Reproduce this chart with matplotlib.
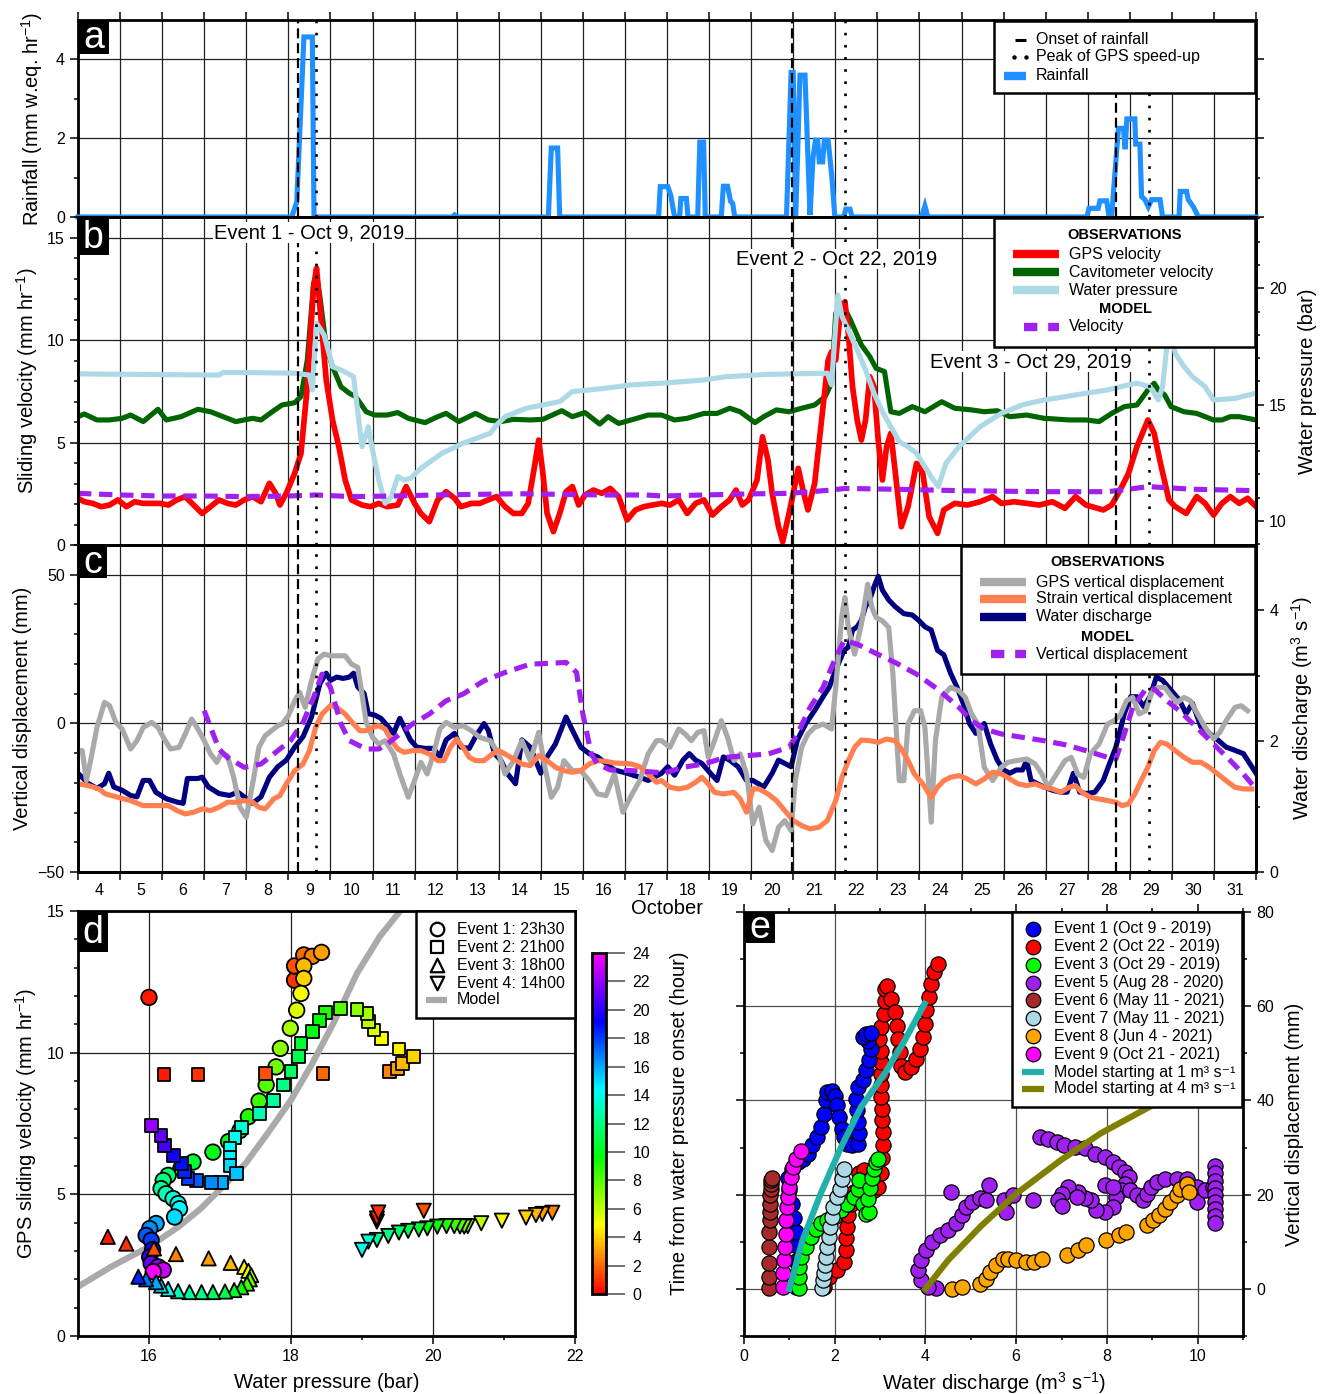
import numpy as np
import matplotlib
matplotlib.use("Agg")
import matplotlib.pyplot as plt
from matplotlib.colors import LinearSegmentedColormap, Normalize
from matplotlib.cm import ScalarMappable
from matplotlib.patches import Rectangle
from matplotlib.ticker import FixedLocator, FixedFormatter, MultipleLocator

plt.rcParams['font.family'] = ['Liberation Sans', 'DejaVu Sans']
plt.rcParams['mathtext.fontset'] = 'custom'
plt.rcParams['mathtext.rm'] = 'Liberation Sans'
plt.rcParams['mathtext.it'] = 'Liberation Sans:italic'
plt.rcParams['mathtext.bf'] = 'Liberation Sans:bold'

# ---------------------------------------------------------------- data
day_ticks = list(range(4, 32))
onset_days = [9.23, 20.97, 28.67]
peak_days = [9.66, 22.22, 29.46]
event_titles = ["Event 1 - Oct 9, 2019", "Event 2 - Oct 22, 2019", "Event 3 - Oct 29, 2019"]

rain = [(4.0, 0), (9.08, 0), (9.20, 0.38), (9.37, 4.57), (9.57, 4.57), (9.61, 0), (12.90, 0), (12.95, 0.05),
        (13.00, 0), (15.18, 0), (15.25, 1.75), (15.40, 1.75), (15.45, 0), (17.80, 0), (17.84, 0.77),
        (18.02, 0.77), (18.09, 0.55), (18.18, 0), (18.30, 0), (18.33, 0.47), (18.46, 0.47), (18.50, 0),
        (18.73, 0), (18.78, 1.9), (18.87, 1.9), (18.91, 0), (19.29, 0), (19.34, 0.78), (19.44, 0.78),
        (19.51, 0.4), (19.56, 0.35), (19.61, 0), (20.84, 0), (20.95, 3.67), (21.00, 3.67), (21.06, 0.02),
        (21.16, 3.6), (21.28, 3.6), (21.40, 0.05), (21.47, 1.5), (21.53, 1.95), (21.58, 1.95), (21.62, 1.4),
        (21.70, 1.4), (21.74, 1.95), (21.83, 1.95), (21.92, 1.0), (21.99, 0), (22.20, 0), (22.25, 0.2),
        (22.35, 0.2), (22.40, 0), (24.05, 0), (24.13, 0.28), (24.20, 0), (27.98, 0), (28.03, 0.22),
        (28.25, 0.22), (28.29, 0.41), (28.45, 0.41), (28.50, 0.05), (28.57, 0.05), (28.73, 2.25),
        (28.85, 2.25), (28.89, 1.72), (28.93, 2.49), (29.12, 2.49), (29.14, 1.85), (29.24, 1.85),
        (29.28, 0.52), (29.36, 0.44), (29.44, 0.26), (29.52, 0.44), (29.72, 0.44), (29.78, 0), (30.17, 0),
        (30.20, 0.65), (30.35, 0.65), (30.39, 0.44), (30.51, 0.26), (30.63, 0), (32.0, 0)]

gps_vel = [(4.00, 2.28), (4.15, 2.11), (4.35, 2.03), (4.55, 1.87), (4.75, 1.95), (4.95, 2.20), (5.15, 1.87),
           (5.35, 2.11), (5.55, 2.03), (5.75, 2.03), (5.95, 2.03), (6.15, 1.95), (6.35, 2.20), (6.55, 2.36),
           (6.75, 1.95), (6.95, 1.54), (7.15, 1.87), (7.35, 2.20), (7.55, 2.03), (7.75, 1.95), (7.95, 2.20),
           (8.15, 2.36), (8.35, 2.11), (8.55, 3.01), (8.70, 2.52), (8.80, 1.95), (8.95, 2.52), (9.15, 3.50),
           (9.30, 4.47), (9.45, 7.72), (9.60, 12.60), (9.67, 13.50), (9.75, 11.63), (9.90, 8.05),
           (10.05, 6.10), (10.20, 4.80), (10.35, 3.17), (10.50, 2.20), (10.75, 1.95), (10.95, 1.87),
           (11.15, 2.03), (11.35, 1.87), (11.60, 1.95), (11.80, 2.85), (12.00, 2.03), (12.15, 1.54),
           (12.35, 1.14), (12.55, 2.20), (12.75, 2.60), (12.95, 2.28), (13.10, 1.87), (13.35, 2.03),
           (13.55, 2.03), (13.75, 2.20), (13.95, 2.36), (14.15, 1.87), (14.35, 1.54), (14.55, 1.54),
           (14.70, 2.03), (14.85, 3.82), (14.95, 5.12), (15.05, 3.50), (15.15, 1.54), (15.30, 0.65),
           (15.45, 1.54), (15.60, 2.60), (15.75, 2.85), (15.90, 1.95), (16.05, 2.44), (16.25, 2.68),
           (16.45, 2.52), (16.65, 2.76), (16.85, 2.36), (17.05, 1.22), (17.25, 1.71), (17.45, 1.87),
           (17.65, 1.95), (17.87, 2.03), (18.07, 1.95), (18.28, 2.20), (18.48, 1.54), (18.68, 2.03),
           (18.88, 2.20), (19.08, 1.46), (19.29, 1.87), (19.49, 2.20), (19.64, 2.68), (19.79, 1.95),
           (19.94, 2.20), (20.14, 3.17), (20.27, 5.28), (20.40, 4.15), (20.50, 2.52), (20.65, 0.89),
           (20.75, 0.16), (20.90, 1.54), (21.00, 2.52), (21.12, 3.74), (21.25, 2.52), (21.35, 1.71),
           (21.51, 3.01), (21.71, 6.75), (21.83, 9.02), (21.91, 9.43), (22.01, 9.02), (22.11, 11.14),
           (22.23, 11.87), (22.31, 10.33), (22.41, 7.72), (22.52, 6.10), (22.62, 5.12), (22.72, 6.10),
           (22.82, 8.21), (22.92, 7.72), (23.02, 5.12), (23.12, 3.17), (23.22, 4.80), (23.32, 5.45),
           (23.42, 3.66), (23.57, 0.89), (23.73, 1.87), (23.93, 3.98), (24.08, 3.50), (24.23, 1.38),
           (24.43, 0.57), (24.58, 1.71), (24.84, 2.03), (25.14, 1.95), (25.44, 2.11), (25.74, 2.36),
           (25.95, 2.03), (26.25, 2.11), (26.55, 2.03), (26.85, 1.95), (27.16, 2.11), (27.46, 1.79),
           (27.71, 2.36), (27.96, 1.95), (28.37, 1.71), (28.57, 1.95), (28.77, 2.68), (28.97, 3.50),
           (29.17, 4.80), (29.43, 6.10), (29.58, 5.45), (29.73, 3.98), (29.93, 2.20), (30.08, 1.87),
           (30.34, 1.54), (30.59, 2.36), (30.79, 2.03), (30.99, 1.46), (31.19, 2.03), (31.39, 2.36),
           (31.60, 2.03), (31.80, 2.28), (32.00, 1.87)]

cav_vel = [(4.00, 6.26), (4.15, 6.39), (4.45, 6.10), (4.75, 6.10), (5.05, 6.18), (5.25, 6.34), (5.55, 6.02),
           (5.90, 6.62), (6.10, 6.10), (6.45, 6.26), (6.85, 6.62), (7.15, 6.50), (7.45, 6.26), (7.75, 6.02),
           (8.15, 6.18), (8.35, 6.10), (8.65, 6.55), (8.85, 6.83), (9.15, 6.94), (9.30, 7.24), (9.45, 9.02),
           (9.60, 12.76), (9.67, 13.17), (9.75, 12.11), (9.90, 9.67), (10.05, 8.70), (10.25, 7.72),
           (10.45, 7.40), (10.60, 7.24), (10.85, 6.50), (11.05, 6.34), (11.35, 6.34), (11.60, 6.46),
           (11.85, 6.18), (12.25, 5.97), (12.55, 6.26), (12.75, 6.42), (13.05, 6.02), (13.45, 6.42),
           (13.75, 6.10), (14.05, 6.02), (14.35, 6.13), (14.75, 6.10), (15.05, 6.13), (15.50, 6.55),
           (15.75, 6.26), (16.05, 6.46), (16.40, 5.90), (16.60, 6.26), (16.85, 5.93), (17.15, 6.10),
           (17.55, 6.34), (17.87, 6.34), (18.18, 6.10), (18.48, 6.18), (18.88, 6.42), (19.19, 6.42),
           (19.49, 6.67), (19.74, 6.50), (20.09, 5.97), (20.30, 6.26), (20.60, 6.59), (20.90, 6.50),
           (21.20, 6.67), (21.51, 6.83), (21.76, 7.24), (21.91, 7.89), (22.01, 11.30), (22.16, 11.79),
           (22.36, 10.98), (22.62, 9.76), (22.82, 9.19), (22.97, 8.62), (23.17, 8.46), (23.32, 6.50),
           (23.52, 6.42), (23.83, 6.75), (24.13, 6.50), (24.53, 6.99), (24.84, 6.67), (25.24, 6.59),
           (25.54, 6.50), (25.85, 6.55), (26.15, 6.26), (26.55, 6.34), (26.96, 6.18), (27.56, 6.10),
           (27.96, 6.10), (28.27, 6.02), (28.57, 6.42), (28.87, 6.75), (29.17, 6.83), (29.43, 7.56),
           (29.58, 7.89), (29.68, 7.56), (29.83, 7.32), (29.98, 6.75), (30.29, 6.50), (30.59, 6.42),
           (30.99, 6.10), (31.19, 6.10), (31.39, 6.26), (31.60, 6.26), (31.80, 6.18), (32.00, 6.10)]

water_pressure = [(4.00, 16.32), (7.35, 16.27), (7.45, 16.38), (7.95, 16.38), (9.15, 16.35), (9.50, 16.27),
                  (9.57, 15.63), (9.67, 18.50), (9.85, 17.99), (10.05, 16.63), (10.15, 16.56), (10.25, 16.49),
                  (10.40, 16.35), (10.55, 16.20), (10.75, 13.19), (10.90, 14.05), (11.00, 13.05),
                  (11.15, 11.76), (11.30, 10.76), (11.45, 11.05), (11.60, 11.91), (11.75, 11.76),
                  (11.90, 11.83), (12.15, 12.26), (12.65, 12.91), (13.15, 13.34), (13.80, 13.77),
                  (13.95, 14.13), (14.15, 14.48), (14.65, 14.84), (15.45, 15.13), (15.60, 15.34),
                  (15.75, 15.56), (16.15, 15.63), (16.65, 15.73), (17.15, 15.85), (17.87, 15.92),
                  (18.88, 16.06), (19.39, 16.20), (20.40, 16.30), (21.81, 16.35), (21.91, 15.85),
                  (22.06, 19.71), (22.16, 18.78), (22.31, 18.21), (22.52, 17.35), (22.72, 16.49),
                  (22.92, 15.49), (23.12, 14.70), (23.32, 14.05), (23.52, 13.41), (23.73, 13.19),
                  (23.93, 12.91), (24.13, 12.34), (24.33, 11.76), (24.45, 11.48), (24.63, 12.48),
                  (24.94, 13.19), (25.44, 14.05), (25.95, 14.63), (26.45, 14.99), (26.96, 15.20),
                  (27.46, 15.34), (27.96, 15.49), (28.47, 15.63), (28.97, 15.85), (29.17, 15.92),
                  (29.48, 15.77), (29.68, 15.20), (29.78, 15.77), (29.88, 17.49), (29.98, 18.21),
                  (30.08, 17.21), (30.29, 16.63), (30.49, 16.20), (30.79, 15.77), (30.99, 15.20),
                  (31.50, 15.27), (32.00, 15.49)]

model_vel = [(4.0, 2.52), (5.0, 2.44), (6.0, 2.39), (7.0, 2.39), (8.0, 2.36), (9.0, 2.39), (9.67, 2.44),
             (10.5, 2.36), (11.5, 2.39), (12.5, 2.44), (13.5, 2.47), (14.5, 2.50), (15.5, 2.47), (16.5, 2.44),
             (17.5, 2.44), (17.87, 2.39), (18.88, 2.44), (19.89, 2.49), (20.90, 2.52), (21.91, 2.68),
             (22.23, 2.76), (23.42, 2.72), (24.94, 2.65), (26.96, 2.60), (28.47, 2.60), (28.97, 2.72),
             (29.43, 2.85), (30.49, 2.72), (32.0, 2.65)]

gps_vert = [(4.00, -9.18), (4.10, -9.18), (4.20, -19.26), (4.30, -12.54), (4.45, -1.34), (4.63, 7.05),
            (4.75, 5.94), (4.90, 0.34), (5.05, -1.90), (5.25, -8.62), (5.40, -5.82), (5.55, -1.34),
            (5.75, 0.34), (5.90, -1.34), (6.05, -5.26), (6.20, -8.62), (6.40, -8.06), (6.55, -3.58),
            (6.70, 1.46), (6.85, -1.90), (7.00, -5.82), (7.15, -10.30), (7.30, -13.10), (7.40, -10.30),
            (7.55, -10.86), (7.70, -18.14), (7.85, -28.22), (8.00, -31.58), (8.15, -20.38), (8.30, -8.06),
            (8.45, -4.14), (8.60, -2.46), (8.75, -0.78), (8.85, -0.22), (9.00, 2.58), (9.15, 7.61),
            (9.27, 10.41), (9.40, 5.38), (9.55, 14.33), (9.70, 21.61), (9.85, 23.29), (10.00, 22.73),
            (10.15, 22.73), (10.25, 22.73), (10.35, 22.73), (10.50, 19.93), (10.65, 18.81), (10.75, 9.85),
            (10.85, 0.34), (11.00, -4.70), (11.15, -6.94), (11.30, -5.82), (11.50, -10.30), (11.65, -17.02),
            (11.85, -24.86), (12.00, -19.26), (12.15, -13.10), (12.30, -17.02), (12.45, -10.30),
            (12.60, -1.90), (12.75, 0.34), (12.95, -1.34), (13.15, -0.78), (13.35, -2.46), (13.55, -4.70),
            (13.80, -5.82), (14.00, -10.30), (14.15, -17.02), (14.35, -12.54), (14.55, -5.82),
            (14.75, -12.54), (14.95, -3.02), (15.10, -14.78), (15.25, -24.86), (15.40, -21.50),
            (15.55, -12.54), (15.75, -15.90), (15.95, -15.90), (16.15, -19.26), (16.35, -23.74),
            (16.55, -24.30), (16.75, -17.02), (16.95, -29.90), (17.15, -24.30), (17.35, -19.26),
            (17.55, -10.30), (17.75, -5.82), (17.87, -5.82), (18.07, -8.06), (18.28, -1.90), (18.43, -3.58),
            (18.58, -5.82), (18.73, -3.02), (18.88, -2.46), (18.98, -11.42), (19.13, -5.82), (19.29, 0.90),
            (19.44, -4.70), (19.59, -12.54), (19.74, -10.30), (19.89, -17.02), (20.04, -33.82),
            (20.19, -28.22), (20.35, -39.42), (20.50, -42.78), (20.65, -34.94), (20.80, -32.70),
            (20.95, -36.06), (21.05, -19.26), (21.20, -8.06), (21.35, -3.58), (21.51, -1.34), (21.71, -0.22),
            (21.91, -1.90), (22.01, 12.09), (22.16, 36.73), (22.23, 42.33), (22.31, 32.25), (22.46, 23.29),
            (22.62, 33.37), (22.77, 46.81), (22.87, 38.97), (22.97, 35.61), (23.12, 34.49), (23.27, 32.25),
            (23.37, 16.57), (23.52, -19.26), (23.63, -19.26), (23.73, -0.22), (23.88, 4.26), (24.03, 4.26),
            (24.13, -1.34), (24.28, -33.26), (24.38, -5.82), (24.53, 8.73), (24.74, 12.09), (24.94, 10.97),
            (25.09, 8.73), (25.24, 3.14), (25.39, -0.22), (25.54, -14.78), (25.74, -19.26), (25.95, -14.78),
            (26.10, -13.10), (26.30, -12.54), (26.55, -11.98), (26.75, -13.66), (26.91, -17.02),
            (27.06, -21.50), (27.26, -17.02), (27.46, -12.54), (27.61, -11.42), (27.76, -17.02),
            (27.91, -18.14), (28.06, -10.30), (28.27, -6.94), (28.47, -0.22), (28.62, 0.90), (28.77, 2.58),
            (28.92, 7.61), (29.07, 8.73), (29.22, 3.14), (29.38, 4.26), (29.53, 10.97), (29.68, 12.09),
            (29.83, 12.09), (29.98, 9.29), (30.13, 7.05), (30.29, 8.73), (30.44, 7.61), (30.59, 3.70),
            (30.79, -1.34), (30.99, -5.26), (31.14, -3.02), (31.29, 0.90), (31.50, 5.38), (31.65, 5.94),
            (31.80, 4.26)]

strain_vert = [(4.00, -20.38), (4.25, -20.94), (4.50, -22.06), (4.65, -23.74), (4.95, -24.86), (5.25, -25.98),
               (5.55, -27.66), (5.85, -27.66), (6.15, -27.66), (6.35, -29.34), (6.55, -30.46), (6.75, -29.90),
               (6.95, -28.78), (7.15, -29.34), (7.35, -28.22), (7.55, -26.54), (7.75, -26.54), (7.95, -25.98),
               (8.15, -26.54), (8.30, -28.22), (8.45, -28.78), (8.65, -25.42), (8.80, -24.30), (8.95, -20.38),
               (9.15, -15.90), (9.35, -13.66), (9.50, -9.18), (9.65, -1.34), (9.80, 3.14), (10.00, 5.94),
               (10.15, 5.38), (10.35, 3.14), (10.55, -0.22), (10.70, -2.46), (10.85, -2.46), (11.00, -1.34),
               (11.15, -0.78), (11.30, -1.90), (11.45, -5.82), (11.60, -8.62), (11.75, -9.74), (11.95, -9.18),
               (12.15, -9.18), (12.35, -10.30), (12.55, -12.54), (12.70, -12.54), (12.85, -8.06),
               (13.00, -5.26), (13.15, -8.06), (13.30, -11.42), (13.45, -12.54), (13.65, -12.54),
               (13.85, -10.30), (14.00, -9.18), (14.15, -10.30), (14.35, -11.98), (14.55, -13.66),
               (14.75, -14.22), (14.95, -10.86), (15.15, -12.54), (15.35, -14.78), (15.55, -15.90),
               (15.75, -16.46), (15.95, -15.90), (16.15, -13.66), (16.35, -12.54), (16.55, -12.77),
               (16.75, -13.33), (16.95, -13.44), (17.15, -13.66), (17.35, -14.56), (17.55, -17.02),
               (17.75, -19.82), (17.87, -19.26), (18.07, -21.50), (18.28, -22.06), (18.48, -21.50),
               (18.68, -19.82), (18.83, -18.14), (18.98, -20.38), (19.13, -23.18), (19.34, -23.74),
               (19.59, -23.18), (19.74, -25.42), (19.89, -29.90), (20.04, -22.06), (20.19, -22.06),
               (20.40, -23.74), (20.60, -25.98), (20.80, -29.34), (21.00, -32.70), (21.20, -34.38),
               (21.40, -35.50), (21.61, -34.94), (21.81, -32.70), (22.01, -25.98), (22.16, -18.14),
               (22.31, -12.54), (22.46, -8.06), (22.62, -5.60), (22.82, -5.82), (23.02, -6.38), (23.22, -5.26),
               (23.42, -5.82), (23.57, -8.62), (23.73, -12.54), (23.88, -17.02), (24.08, -20.38),
               (24.28, -24.86), (24.43, -21.50), (24.58, -19.26), (24.74, -18.14), (24.94, -17.58),
               (25.14, -18.70), (25.34, -20.38), (25.54, -18.70), (25.74, -16.46), (25.95, -17.02),
               (26.15, -18.70), (26.35, -20.38), (26.55, -20.94), (26.75, -20.38), (26.96, -21.50),
               (27.16, -22.06), (27.36, -23.18), (27.56, -21.50), (27.71, -20.94), (27.86, -23.18),
               (28.06, -24.86), (28.27, -25.42), (28.47, -25.98), (28.67, -26.54), (28.82, -27.66),
               (28.97, -27.10), (29.12, -23.74), (29.27, -19.26), (29.43, -14.78), (29.58, -9.18),
               (29.73, -6.38), (29.88, -6.94), (30.08, -9.18), (30.29, -11.42), (30.49, -13.10),
               (30.69, -13.10), (30.89, -14.78), (31.09, -17.02), (31.29, -19.26), (31.50, -21.50),
               (31.70, -22.06), (31.90, -22.06)]

discharge = [(4.00, 1.51), (4.25, 1.35), (4.45, 1.28), (4.63, 1.35), (4.73, 1.51), (4.85, 1.30), (5.05, 1.25),
             (5.25, 1.17), (5.40, 1.15), (5.55, 1.40), (5.70, 1.40), (5.85, 1.22), (6.10, 1.12), (6.35, 1.07),
             (6.50, 1.05), (6.60, 1.43), (6.85, 1.43), (6.95, 1.45), (7.10, 1.30), (7.35, 1.20), (7.60, 1.17),
             (7.80, 1.22), (7.95, 1.15), (8.15, 1.05), (8.35, 1.15), (8.55, 1.45), (8.75, 1.61), (8.95, 1.71),
             (9.15, 1.91), (9.35, 2.07), (9.55, 2.37), (9.75, 2.88), (9.90, 3.04), (10.00, 2.93),
             (10.15, 2.98), (10.30, 2.96), (10.45, 2.98), (10.55, 3.04), (10.65, 2.83), (10.80, 2.73),
             (10.90, 2.42), (11.05, 2.40), (11.20, 2.35), (11.35, 2.24), (11.50, 2.12), (11.65, 2.35),
             (11.75, 2.22), (11.90, 2.02), (12.05, 1.91), (12.25, 1.89), (12.45, 1.89), (12.60, 1.76),
             (12.75, 2.02), (12.95, 2.12), (13.10, 1.91), (13.30, 1.89), (13.45, 2.07), (13.65, 2.27),
             (13.75, 2.17), (13.90, 1.81), (14.05, 1.71), (14.20, 1.51), (14.40, 1.35), (14.55, 2.02),
             (14.75, 1.91), (15.00, 1.51), (15.15, 1.76), (15.35, 1.96), (15.60, 2.37), (15.75, 2.17),
             (15.95, 1.91), (16.15, 1.81), (16.35, 1.76), (16.55, 1.66), (16.75, 1.56), (17.05, 1.51),
             (17.35, 1.45), (17.55, 1.40), (17.87, 1.51), (18.02, 1.61), (18.18, 1.48), (18.38, 1.71),
             (18.53, 1.81), (18.68, 1.71), (18.83, 1.66), (19.03, 1.51), (19.19, 1.40), (19.34, 1.76),
             (19.49, 1.71), (19.69, 1.61), (19.89, 1.40), (20.04, 1.40), (20.30, 1.30), (20.50, 1.51),
             (20.65, 1.71), (20.80, 1.66), (20.95, 1.61), (21.10, 2.02), (21.30, 2.27), (21.51, 2.47),
             (21.71, 2.68), (21.86, 2.83), (22.01, 3.09), (22.11, 3.24), (22.21, 3.39), (22.31, 3.44),
             (22.41, 3.70), (22.52, 3.75), (22.62, 3.85), (22.72, 4.06), (22.82, 4.16), (22.92, 4.36),
             (23.02, 4.52), (23.12, 4.31), (23.27, 4.16), (23.42, 4.06), (23.63, 3.95), (23.83, 3.93),
             (23.98, 3.85), (24.13, 3.75), (24.28, 3.70), (24.43, 3.39), (24.58, 3.32), (24.74, 3.04),
             (24.89, 2.83), (25.04, 2.58), (25.19, 2.27), (25.34, 2.12), (25.54, 2.27), (25.69, 1.96),
             (25.85, 1.71), (26.00, 1.56), (26.15, 1.51), (26.30, 1.56), (26.45, 1.56), (26.55, 1.71),
             (26.65, 1.40), (26.80, 1.35), (26.96, 1.30), (27.16, 1.25), (27.36, 1.22), (27.51, 1.22),
             (27.66, 1.51), (27.81, 1.22), (27.96, 1.20), (28.17, 1.22), (28.37, 1.40), (28.52, 1.66),
             (28.67, 1.91), (28.87, 2.42), (29.02, 2.68), (29.17, 2.68), (29.33, 2.53), (29.48, 2.68),
             (29.63, 2.98), (29.78, 2.93), (29.98, 2.78), (30.18, 2.63), (30.34, 2.42), (30.49, 2.58),
             (30.69, 2.22), (30.89, 2.12), (31.09, 2.02), (31.29, 1.91), (31.50, 1.86), (31.70, 1.81),
             (31.90, 1.61), (32.00, 1.51)]

model_vert = [(7.00, 4.26), (7.35, -8.62), (7.55, -11.42), (7.95, -14.78), (8.35, -13.66), (8.75, -9.18),
              (9.05, -5.82), (9.35, 0.34), (9.60, 8.73), (9.80, 16.57), (10.00, 12.09), (10.25, -0.22),
              (10.45, -5.82), (10.85, -8.62), (11.15, -8.62), (11.35, -6.94), (11.65, -3.58), (11.95, -0.22),
              (12.35, 3.14), (12.75, 7.61), (13.15, 9.85), (13.65, 14.33), (14.15, 17.13), (14.75, 19.93),
              (15.15, 20.16), (15.60, 20.49), (15.85, 17.13), (16.00, 3.14), (16.20, -10.30), (16.35, -13.66),
              (16.65, -15.68), (17.15, -15.90), (17.75, -16.46), (17.87, -17.02), (18.38, -14.78),
              (18.88, -13.66), (19.39, -11.42), (19.89, -10.86), (20.40, -10.30), (20.90, -8.06),
              (21.10, -3.58), (21.40, 5.38), (21.71, 12.09), (22.01, 22.17), (22.21, 27.77), (22.52, 26.65),
              (22.92, 23.85), (23.42, 20.49), (23.93, 16.57), (24.43, 11.53), (24.94, 5.38), (25.24, 0.90),
              (25.54, -1.90), (25.95, -3.58), (26.45, -4.70), (26.96, -5.82), (27.46, -7.17), (27.96, -9.18),
              (28.47, -11.42), (28.67, -11.98), (28.87, -3.58), (29.07, 5.38), (29.38, 11.53), (29.58, 11.53),
              (29.88, 7.61), (30.18, 4.26), (30.59, -1.34), (30.99, -6.94), (31.39, -12.54), (31.70, -17.02),
              (32.00, -22.06)]

# panel d : (water pressure bar, GPS velocity mm/hr, hours from onset)
ev1_d = [(16.00, 11.95, 0.5), (18.05, 12.56, 1.0), (18.05, 13.06, 1.5), (18.18, 13.45, 2.0), (18.30, 13.40, 2.5),
         (18.43, 13.54, 3.0), (18.18, 13.06, 3.5), (18.18, 12.62, 4.0), (18.14, 12.09, 5.0), (18.08, 11.50, 5.5),
         (17.99, 10.86, 6.5), (17.85, 10.15, 7.0), (17.79, 9.50, 7.5), (17.65, 8.86, 8.0), (17.55, 8.29, 8.5),
         (17.40, 7.74, 9.0), (17.28, 7.25, 9.5), (17.12, 6.86, 10.0), (16.90, 6.49, 10.0), (16.62, 6.14, 10.5),
         (16.45, 5.92, 11.0), (16.27, 5.67, 11.5), (16.20, 5.49, 12.0), (16.17, 5.20, 12.5), (16.24, 5.02, 13.0),
         (16.34, 4.85, 13.5), (16.41, 4.67, 14.0), (16.43, 4.49, 14.5), (16.36, 4.20, 15.0), (16.10, 3.97, 16.0),
         (16.01, 3.79, 16.5), (15.96, 3.55, 17.5), (16.03, 3.38, 18.0), (16.05, 3.05, 19.0), (16.01, 2.79, 20.0),
         (16.03, 2.56, 21.0), (16.13, 2.44, 22.0), (16.20, 2.33, 23.0), (16.06, 2.27, 24.0)]
ev2_d = [(16.21, 9.24, 0.5), (16.69, 9.24, 1.0), (17.64, 9.27, 1.5), (18.45, 9.27, 2.0), (19.39, 9.33, 2.5),
         (19.50, 9.45, 3.0), (19.57, 9.62, 3.5), (19.72, 9.86, 4.0), (19.52, 10.13, 4.5), (19.28, 10.50, 5.0),
         (19.17, 10.80, 5.5), (19.09, 11.10, 6.0), (19.07, 11.39, 6.5), (18.93, 11.53, 7.0), (18.70, 11.56, 8.0),
         (18.49, 11.41, 9.0), (18.40, 11.13, 9.5), (18.30, 10.74, 10.0), (18.14, 10.33, 10.5), (18.10, 9.86, 11.0),
         (18.00, 9.33, 11.5), (17.89, 8.86, 12.0), (17.75, 8.31, 12.5), (17.56, 7.84, 13.0), (17.30, 7.37, 13.5),
         (17.21, 7.02, 14.0), (17.14, 6.61, 14.3), (17.14, 6.32, 14.6), (17.14, 6.02, 15.0), (17.23, 5.73, 15.5),
         (17.02, 5.43, 16.0), (16.88, 5.43, 16.5), (16.67, 5.49, 17.5), (16.55, 5.55, 18.0), (16.50, 5.82, 18.5),
         (16.46, 6.08, 19.0), (16.34, 6.37, 19.5), (16.22, 6.73, 20.5), (16.17, 7.08, 21.0), (16.04, 7.43, 22.0)]
ev3_d = [(15.42, 3.50, 0.5), (15.68, 3.26, 1.0), (16.07, 3.09, 1.5), (16.38, 2.89, 2.5), (16.84, 2.74, 3.0),
         (17.15, 2.58, 3.5), (17.34, 2.44, 4.5), (17.40, 2.30, 5.5), (17.44, 2.15, 6.5), (17.42, 2.00, 7.5),
         (17.38, 1.85, 8.5), (17.30, 1.72, 9.5), (17.20, 1.62, 10.5), (17.07, 1.57, 11.0), (16.90, 1.55, 11.5),
         (16.74, 1.55, 12.0), (16.57, 1.55, 12.5), (16.41, 1.58, 13.0), (16.27, 1.66, 14.0), (16.17, 1.78, 15.0),
         (16.10, 1.90, 16.0), (15.96, 2.00, 17.0), (15.85, 2.09, 18.5)]
ev4_d = [(19.21, 4.04, 0.3), (19.21, 4.15, 0.5), (19.23, 4.36, 1.0), (19.87, 4.42, 1.5), (21.68, 4.35, 2.5),
         (21.54, 4.31, 3.0), (21.45, 4.27, 3.5), (21.31, 4.18, 4.0), (20.97, 4.07, 5.0), (20.68, 3.98, 6.0),
         (20.49, 3.88, 7.0), (20.44, 3.86, 7.5), (20.38, 3.87, 8.0), (20.30, 3.88, 8.5), (20.19, 3.88, 9.0),
         (20.06, 3.86, 9.5), (19.92, 3.80, 10.0), (19.80, 3.76, 10.5), (19.65, 3.71, 11.0), (19.52, 3.65, 11.5),
         (19.37, 3.53, 12.0), (19.21, 3.39, 12.5), (19.09, 3.33, 13.5), (19.00, 3.04, 14.0)]
model_d = [(15.0, 1.74), (15.47, 2.45), (16.0, 3.15), (16.42, 3.86), (16.73, 4.5), (17.04, 5.27), (17.36, 6.09),
           (17.67, 7.15), (18.0, 8.33), (18.3, 9.62), (18.62, 11.15), (18.93, 12.8), (19.25, 14.1), (19.56, 15.07)]
legend_d = ["Event 1: 23h30", "Event 2: 21h00", "Event 3: 18h00", "Event 4: 14h00", "Model"]

# panel e : (water discharge m3/s, vertical displacement mm)
e_ev1 = [(1.15, 0.5), (1.15, 3.0), (1.15, 6.0), (1.16, 9.0), (1.14, 12.0), (1.10, 15.0), (1.05, 18.0), (1.00, 21.0),
         (0.98, 23.5), (1.05, 25.5), (1.18, 27.0), (1.30, 27.6), (1.40, 28.7), (1.51, 30.5), (1.62, 32.2),
         (1.69, 34.4), (1.77, 37.2), (1.81, 40.0), (1.84, 41.8), (1.93, 42.1), (2.00, 41.0), (2.06, 39.0),
         (2.10, 36.5), (2.15, 34.0), (2.20, 32.2), (2.28, 30.8), (2.39, 30.5), (2.51, 30.8), (2.54, 33.0),
         (2.52, 35.4), (2.48, 37.9), (2.47, 40.4), (2.51, 42.8), (2.62, 44.3), (2.69, 46.4), (2.76, 48.5),
         (2.79, 51.0), (2.73, 52.7), (2.62, 53.4), (2.69, 54.2), (2.79, 54.3)]
e_ev2 = [(1.77, 0.4), (1.88, 2.6), (2.06, 4.0), (2.21, 5.7), (2.25, 8.2), (2.25, 10.7), (2.27, 13.2), (2.30, 15.6),
         (2.36, 18.1), (2.43, 20.6), (2.54, 24.5), (2.65, 25.2), (2.76, 23.1), (2.87, 20.9), (2.95, 21.6),
         (3.02, 24.5), (3.04, 27.7), (3.06, 30.5), (3.06, 33.3), (3.04, 35.8), (3.04, 38.2), (3.02, 40.7),
         (3.02, 43.2), (3.03, 45.7), (3.02, 48.1), (3.01, 50.6), (2.98, 53.1), (3.02, 55.6), (3.08, 58.4),
         (3.10, 61.2), (3.11, 63.7), (3.15, 64.2), (3.24, 61.6), (3.32, 58.7), (3.38, 55.9), (3.40, 53.1),
         (3.43, 50.3), (3.46, 47.4), (3.54, 46.0), (3.68, 47.2), (3.80, 48.9), (3.89, 51.0), (3.94, 53.4),
         (3.98, 56.3), (4.02, 59.1), (4.08, 61.9), (4.13, 64.8), (4.19, 67.2), (4.27, 69.0)]
e_ev3 = [(1.22, 0.1), (1.22, 2.6), (1.22, 4.7), (1.25, 6.8), (1.36, 8.9), (1.47, 11.0), (1.58, 12.8), (1.69, 13.9),
         (1.84, 14.6), (1.99, 15.3), (2.14, 16.7), (2.28, 18.1), (2.43, 19.5), (2.51, 21.3), (2.54, 23.1),
         (2.62, 18.0), (2.68, 16.0), (2.76, 16.4), (2.74, 19.0), (2.78, 21.5), (2.82, 23.5), (2.86, 25.5),
         (2.92, 27.0), (2.96, 27.6)]
e_ev5 = [(4.24, 0.1), (4.06, 0.4), (3.90, 1.8), (3.84, 4.0), (3.90, 6.1), (4.01, 8.2), (4.15, 10.0), (4.32, 11.4),
         (4.50, 12.4), (4.68, 13.9), (4.81, 15.6), (4.90, 17.4), (5.03, 18.5), (5.21, 19.2), (5.34, 18.8),
         (4.57, 20.6), (5.40, 22.0), (5.74, 18.8), (5.78, 16.3), (5.92, 19.9), (6.36, 18.8), (6.53, 32.2),
         (6.71, 31.9), (6.89, 31.2), (7.06, 30.5), (7.29, 30.1), (7.51, 29.8), (7.73, 28.7), (7.95, 28.0),
         (8.13, 26.9), (8.26, 25.9), (8.39, 24.8), (8.48, 23.8), (8.39, 22.3), (8.30, 20.9), (8.21, 19.5),
         (8.13, 17.4), (7.95, 16.3), (7.77, 16.7), (7.64, 18.8), (7.51, 19.2), (7.37, 20.6), (7.15, 21.6),
         (7.02, 20.2), (6.93, 18.8), (7.02, 17.7), (7.33, 19.5), (7.95, 22.0), (8.13, 21.6), (8.52, 20.9),
         (8.66, 19.9), (8.79, 18.8), (8.88, 20.2), (8.97, 21.6), (9.10, 22.7), (9.27, 23.4), (9.54, 23.4),
         (9.76, 23.4), (9.98, 21.6), (9.98, 18.5), (10.16, 20.9), (10.34, 21.6), (10.38, 26.0), (10.38, 24.5),
         (10.38, 23.0), (10.38, 21.5), (10.38, 20.0), (10.38, 18.5), (10.38, 17.0), (10.38, 15.5), (10.38, 14.0)]
e_ev6 = [(0.55, 0.1), (0.55, 2.6), (0.55, 5.4), (0.55, 8.9), (0.55, 12.1), (0.57, 14.6), (0.57, 16.3), (0.57, 18.1),
         (0.58, 19.9), (0.59, 21.3), (0.60, 22.2), (0.60, 23.1), (0.61, 23.6)]
e_ev7 = [(1.73, 0.1), (1.75, 1.9), (1.77, 3.3), (1.79, 5.0), (1.81, 6.8), (1.84, 8.9), (1.88, 11.0), (1.90, 13.2),
         (1.93, 15.3), (1.97, 17.4), (2.05, 19.5), (2.12, 21.3), (2.17, 23.4), (2.21, 25.5)]
e_ev8 = [(4.59, 0.0), (4.81, 0.4), (5.21, 1.1), (5.34, 2.2), (5.43, 3.6), (5.56, 5.0), (5.70, 6.4), (5.83, 6.4),
         (6.00, 6.1), (6.22, 5.7), (6.40, 5.7), (6.58, 6.4), (7.11, 7.1), (7.37, 8.2), (7.55, 9.3), (7.99, 10.3),
         (8.26, 11.4), (8.43, 12.1), (8.88, 13.5), (9.01, 14.6), (9.14, 15.6), (9.27, 17.0), (9.40, 18.5),
         (9.54, 19.9), (9.62, 21.3), (9.76, 22.3), (9.80, 20.6)]
e_ev9 = [(0.85, 0.4), (0.87, 3.3), (0.88, 6.1), (0.90, 8.9), (0.92, 11.7), (0.92, 14.6), (0.94, 17.4),
         (0.96, 19.5), (0.99, 21.6), (1.03, 23.8), (1.07, 25.9), (1.14, 27.6), (1.25, 29.3)]
e_model1 = [(1.00, 0.0), (1.29, 10.3), (1.69, 20.2), (2.14, 30.1), (2.58, 38.6), (3.10, 45.7), (3.54, 52.7),
            (3.98, 60.5)]
e_model4 = [(4.00, 0.0), (4.50, 6.1), (5.21, 13.2), (6.00, 20.2), (6.98, 27.3), (7.86, 33.0), (9.01, 39.0),
            (9.50, 41.5)]
legend_e = ["Event 1 (Oct 9 - 2019)", "Event 2 (Oct 22 - 2019)", "Event 3 (Oct 29 - 2019)",
            "Event 5 (Aug 28 - 2020)", "Event 6 (May 11 - 2021)", "Event 7 (May 11 - 2021)",
            "Event 8 (Jun 4 - 2021)", "Event 9 (Oct 21 - 2021)",
            "Model starting at 1 m\u00b3 s\u207b\u00b9", "Model starting at 4 m\u00b3 s\u207b\u00b9"]
e_colors = ['#0000ff', '#ff0000', '#00ff00', '#a020f0', '#a52a2a', '#add8e6', '#ffa500', '#ff00ff']

# ---------------------------------------------------------------- styles
C_RAIN = '#1e90ff'
C_GPS = '#ff0000'
C_CAV = '#006400'
C_WP = '#add8e6'
C_MOD = '#a020f0'
C_GZ = '#a9a9a9'
C_ST = '#ff7f50'
C_Q = '#000080'
LW = 3.7
TS = 11.5     # tick size
LS = 14.5     # label size
SPW = 2.0

W, H = 1327, 1394
fig = plt.figure(figsize=(W / 100, H / 100), dpi=100)


def rect(l, t, r, b):
    return [l / W, 1 - b / H, (r - l) / W, (b - t) / H]


def xy(pairs):
    a = np.array(pairs, dtype=float)
    return a[:, 0], a[:, 1]


def style_spines(ax):
    for s in ax.spines.values():
        s.set_linewidth(SPW)


def time_axis(ax, labels=False, top=False):
    ax.set_xlim(4, 32)
    ax.xaxis.set_major_locator(FixedLocator(np.arange(4, 33, 1)))
    ax.xaxis.set_minor_locator(FixedLocator(np.array(day_ticks) + 0.5))
    ax.xaxis.set_minor_formatter(FixedFormatter([str(d) for d in day_ticks]))
    ax.xaxis.set_major_formatter(FixedFormatter([]))
    ax.tick_params(axis='x', which='major', direction='out', length=6, width=1.1,
                   top=top, bottom=labels, labelbottom=False)
    ax.tick_params(axis='x', which='minor', length=0, top=False, bottom=labels,
                   labelbottom=labels, labelsize=TS, pad=8)
    ax.grid(True, axis='x', which='major', color='#202020', lw=0.9)
    ax.grid(True, axis='y', which='major', color='#202020', lw=0.9)
    ax.set_axisbelow(True)
    style_spines(ax)


def event_lines(ax):
    for d in onset_days:
        ax.axvline(d, color='black', lw=1.6, ls=(0, (4.5, 2.2)), zorder=4)
    for d in peak_days:
        ax.axvline(d, color='black', lw=1.9, ls=(0, (1, 3.6)), zorder=4)


# ---------------------------------------------------------------- panel a
axa = fig.add_axes(rect(78, 20, 1256, 217))
time_axis(axa, labels=False, top=True)
axa.set_ylim(0, 5.0)
axa.yaxis.set_major_locator(FixedLocator([0, 2, 4]))
axa.yaxis.set_minor_locator(FixedLocator([1, 3]))
axa.tick_params(axis='y', which='both', direction='out', left=True, right=True, labelsize=TS, width=1.1)
axa.tick_params(axis='y', which='major', length=6)
axa.tick_params(axis='y', which='minor', length=3)
rd, rv = xy(rain)
axa.plot(rd, rv, color=C_RAIN, lw=LW, zorder=3, clip_on=False, solid_joinstyle='miter')
event_lines(axa)
axa.set_ylabel('Rainfall (mm w.eq. hr$^{-1}$)', fontsize=LS, labelpad=8)

# ---------------------------------------------------------------- panel b
axb = fig.add_axes(rect(78, 217, 1256, 545))
time_axis(axb)
axb.set_ylim(0, 16)
axb.yaxis.set_major_locator(FixedLocator([0, 5, 10, 15]))
axb.yaxis.set_minor_locator(MultipleLocator(1))
axb.tick_params(axis='y', which='both', direction='out', labelsize=TS, width=1.1)
axb.tick_params(axis='y', which='major', length=6)
axb.tick_params(axis='y', which='minor', length=3)
axb2 = axb.twinx()
axb2.set_ylim(8.97, 23.06)
axb2.yaxis.set_major_locator(FixedLocator([10, 15, 20]))
axb2.yaxis.set_minor_locator(MultipleLocator(1))
axb2.tick_params(axis='y', which='both', direction='out', labelsize=TS, width=1.1)
axb2.tick_params(axis='y', which='major', length=6)
axb2.tick_params(axis='y', which='minor', length=3)
style_spines(axb2)
d, v = xy(cav_vel)
axb.plot(d, v, color=C_CAV, lw=LW, zorder=3)
d, v = xy(gps_vel)
axb.plot(d, v, color=C_GPS, lw=LW + 0.4, zorder=3.1)
d, v = xy(water_pressure)
axb.plot(d, v, color=C_WP, lw=LW, zorder=3.2, transform=axb2.transData)
d, v = xy(model_vel)
axb.plot(d, v, color=C_MOD, lw=LW, ls=(0, (2.6, 1.5)), zorder=3.3)
event_lines(axb)
axb.set_ylabel('Sliding velocity (mm hr$^{-1}$)', fontsize=LS, labelpad=5)
axb2.set_ylabel('Water pressure (bar)', fontsize=LS, labelpad=8)
title_pos = [(9.5, 15.24), (22.03, 13.96), (26.64, 8.95)]
for (tx, ty), s in zip(title_pos, event_titles):
    axb.text(tx, ty, s, ha='center', va='center', fontsize=14.5, zorder=6,
             bbox=dict(fc='white', ec='none', pad=0.6))

# ---------------------------------------------------------------- panel c
axc = fig.add_axes(rect(78, 545, 1256, 872))
time_axis(axc, labels=True)
axc.set_ylim(-50, 60)
axc.yaxis.set_major_locator(FixedLocator([-50, 0, 50]))
axc.yaxis.set_minor_locator(MultipleLocator(10))
axc.tick_params(axis='y', which='both', direction='out', labelsize=TS, width=1.1)
axc.tick_params(axis='y', which='major', length=6)
axc.tick_params(axis='y', which='minor', length=3)
axc2 = axc.twinx()
axc2.set_ylim(0, 5)
axc2.yaxis.set_major_locator(FixedLocator([0, 2, 4]))
axc2.yaxis.set_minor_locator(FixedLocator([1, 3]))
axc2.tick_params(axis='y', which='both', direction='out', labelsize=TS, width=1.1)
axc2.tick_params(axis='y', which='major', length=6)
axc2.tick_params(axis='y', which='minor', length=3)
style_spines(axc2)
d, v = xy(discharge)
axc.plot(d, v, color=C_Q, lw=LW, zorder=3, transform=axc2.transData)
d, v = xy(gps_vert)
axc.plot(d, v, color=C_GZ, lw=LW, zorder=3.1)
d, v = xy(strain_vert)
axc.plot(d, v, color=C_ST, lw=LW, zorder=3.2)
d, v = xy(model_vert)
axc.plot(d, v, color=C_MOD, lw=LW, ls=(0, (2.6, 1.5)), zorder=3.3)
event_lines(axc)
axc.set_ylabel('Vertical displacement (mm)', fontsize=LS, labelpad=4)
axc2.set_ylabel('Water discharge (m$^3$ s$^{-1}$)', fontsize=LS, labelpad=8)
axc.set_xlabel('October', fontsize=LS, labelpad=1)

# ---------------------------------------------------------------- panel d
tcmap = LinearSegmentedColormap.from_list('rainbow_r', ['#ff0000', '#ffff00', '#00ff00', '#00ffff',
                                                         '#0000ff', '#ff00ff'])
norm = Normalize(0, 24)
axd = fig.add_axes(rect(78, 911, 575, 1336))
axd.set_xlim(15, 22)
axd.set_ylim(0, 15)
axd.xaxis.set_major_locator(FixedLocator([16, 18, 20, 22]))
axd.xaxis.set_minor_locator(MultipleLocator(1))
axd.yaxis.set_major_locator(FixedLocator([0, 5, 10, 15]))
axd.yaxis.set_minor_locator(MultipleLocator(1))
axd.tick_params(which='both', direction='out', labelsize=TS, width=1.1)
axd.tick_params(which='major', length=6)
axd.tick_params(which='minor', length=3)
axd.grid(True, which='major', color='#202020', lw=0.9)
axd.set_axisbelow(True)
style_spines(axd)
mp, mv = xy(model_d)
axd.plot(mp, mv, color='#aaaaaa', lw=4.5, zorder=2)
for pts, mk, sz in [(ev1_d, 'o', 125), (ev2_d, 's', 85), (ev3_d, '^', 105), (ev4_d, 'v', 105)]:
    a = np.array(pts, dtype=float)
    axd.scatter(a[:, 0], a[:, 1], c=a[:, 2], cmap=tcmap, norm=norm, marker=mk, s=sz,
                edgecolors='black', linewidths=1.3, zorder=3)
axd.set_xlabel('Water pressure (bar)', fontsize=LS, labelpad=6)
axd.set_ylabel('GPS sliding velocity (mm hr$^{-1}$)', fontsize=LS, labelpad=6)

cax = fig.add_axes(rect(592, 953, 606, 1294))
cb = fig.colorbar(ScalarMappable(norm=norm, cmap=tcmap), cax=cax, ticks=list(range(0, 25, 2)))
cb.outline.set_linewidth(2.0)
cax.tick_params(length=14, width=1.3, color='#666666', labelsize=TS, pad=5)
cb.set_label('Time from water pressure onset (hour)', fontsize=LS, labelpad=14)

# ---------------------------------------------------------------- panel e
axe = fig.add_axes(rect(744, 912, 1243, 1336))
axe.set_xlim(0, 11)
axe.set_ylim(-10, 80)
axe.xaxis.set_major_locator(FixedLocator([0, 2, 4, 6, 8, 10]))
axe.xaxis.set_minor_locator(MultipleLocator(1))
axe.yaxis.set_major_locator(FixedLocator([0, 20, 40, 60, 80]))
axe.yaxis.set_minor_locator(MultipleLocator(10))
axe.tick_params(which='both', direction='out', labelsize=TS, width=1.1, left=True, right=True, top=True,
                labelleft=False, labelright=True)
axe.tick_params(which='major', length=6)
axe.tick_params(which='minor', length=3)
axe.yaxis.set_label_position('right')
axe.grid(True, which='major', color='#505050', lw=0.9)
axe.set_axisbelow(True)
style_spines(axe)
e_series = [e_ev1, e_ev2, e_ev3, e_ev5, e_ev6, e_ev7, e_ev8, e_ev9]
for idx in [1, 0, 2, 3, 4, 5, 6, 7]:
    q, z = xy(e_series[idx])
    axe.scatter(q, z, s=120, c=e_colors[idx], edgecolors='black', linewidths=0.9, zorder=3)
q, z = xy(e_model1)
axe.plot(q, z, color='#20b2aa', lw=4.5, zorder=4)
q, z = xy(e_model4)
axe.plot(q, z, color='#808000', lw=4.5, zorder=4)
axe.set_xlabel('Water discharge (m$^3$ s$^{-1}$)', fontsize=LS, labelpad=4)
axe.set_ylabel('Vertical displacement (mm)', fontsize=LS, labelpad=8)

# ---------------------------------------------------------------- overlay: legends & panel letters
ov = fig.add_axes([0, 0, 1, 1])
ov.set_xlim(0, W)
ov.set_ylim(H, 0)
ov.axis('off')
ov.set_zorder(20)
FS = 11.5


def box(x0, y0, x1, y1):
    ov.add_patch(Rectangle((x0, y0), x1 - x0, y1 - y0, fc='white', ec='black', lw=1.8, zorder=1))


def txt(x, y, s, bold=False, ha='left', size=FS):
    ov.text(x, y, s, fontsize=size, va='center', ha=ha, fontweight='bold' if bold else 'normal', zorder=3)


# legend a
box(994, 21, 1255, 93)
ov.plot([1015, 1026], [40, 40], color='black', lw=2.2, zorder=2, solid_capstyle='butt')
ov.plot([1014, 1026], [57, 57], color='black', lw=0, marker='o', ms=2.2, zorder=2)
ov.plot([1004, 1026], [76, 76], color=C_RAIN, lw=6, zorder=2, solid_capstyle='butt')
for y, s in zip([40, 57, 76], ["Onset of rainfall", "Peak of GPS speed-up", "Rainfall"]):
    txt(1036, y, s)

# legend b
box(994, 218, 1255, 347)
txt(1125, 235, 'OBSERVATIONS', bold=True, ha='center', size=10.5)
for y, c, s in [(254, C_GPS, 'GPS velocity'), (272, C_CAV, 'Cavitometer velocity'), (290, C_WP, 'Water pressure')]:
    ov.plot([1013, 1059], [y, y], color=c, lw=6, zorder=2, solid_capstyle='butt')
    txt(1069, y, s)
txt(1125, 309, 'MODEL', bold=True, ha='center', size=10.5)
ov.plot([1024, 1059], [327, 327], color=C_MOD, lw=6, ls=(0, (1.6, 1.3)), zorder=2)
txt(1069, 327, 'Velocity')

# legend c
box(961, 546, 1255, 674)
txt(1108, 562, 'OBSERVATIONS', bold=True, ha='center', size=10.5)
for y, c, s in [(582, C_GZ, 'GPS vertical displacement'), (599, C_ST, 'Strain vertical displacement'),
                (617, C_Q, 'Water discharge')]:
    ov.plot([980, 1026], [y, y], color=c, lw=6, zorder=2, solid_capstyle='butt')
    txt(1036, y, s)
txt(1108, 637, 'MODEL', bold=True, ha='center', size=10.5)
ov.plot([991, 1026], [654, 654], color=C_MOD, lw=6, ls=(0, (1.6, 1.3)), zorder=2)
txt(1036, 654, 'Vertical displacement')

# legend d
box(416, 911, 575, 1018)
for y, mk, s in zip([929, 947, 965, 983], ['o', 's', '^', 'v'], legend_d[:4]):
    ov.scatter([437], [y], marker=mk, s=95 if mk != 's' else 70, facecolors='white', edgecolors='black',
               linewidths=1.6, zorder=2)
    txt(457, y, s)
ov.plot([426, 447], [1000, 1000], color='#aaaaaa', lw=4.5, zorder=2, solid_capstyle='butt')
txt(457, 1000, legend_d[4])

# legend e
box(1012, 912, 1242, 1107)
ye = [929, 947, 965, 983, 1000, 1018, 1036, 1054]
for y, c, s in zip(ye, e_colors, legend_e[:8]):
    ov.scatter([1033], [y], s=110, c=c, edgecolors='black', linewidths=0.9, zorder=2)
    txt(1054, y, s)
ov.plot([1022, 1044], [1072, 1072], color='#20b2aa', lw=4.5, zorder=2, solid_capstyle='butt')
txt(1054, 1072, legend_e[8])
ov.plot([1022, 1044], [1089, 1089], color='#808000', lw=4.5, zorder=2, solid_capstyle='butt')
txt(1054, 1089, legend_e[9])

# panel letters
for (x0, y0, w, h), s in [((78, 21, 31, 33), 'a'), ((78, 218, 31, 37), 'b'), ((78, 546, 29, 32), 'c'),
                          ((78, 912, 30, 40), 'd'), ((745, 912, 30, 31), 'e')]:
    ov.add_patch(Rectangle((x0, y0), w, h, fc='black', ec='none', zorder=4))
    ov.text(x0 + w / 2, y0 + h / 2 + 1, s, color='white', fontsize=27, ha='center', va='center', zorder=5)

fig.savefig('out.png', dpi=100)
